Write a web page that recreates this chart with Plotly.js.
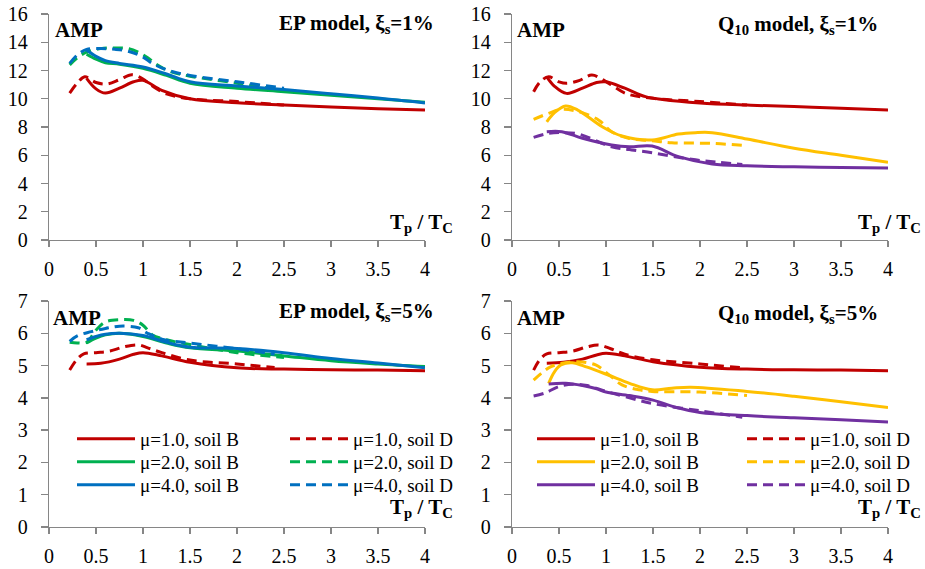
<!DOCTYPE html>
<html>
<head>
<meta charset="utf-8">
<script src="https://cdn.plot.ly/plotly-3.0.1.min.js"></script>
<style>html,body{margin:0;padding:0;background:#fff;}#chart{width:925px;height:569px;}</style>
</head>
<body>
<div id="chart"></div>
<script>
// ---------- DATA ----------
// Panel 1: EP model, xi_s = 1%
const ep1_m1B_x = [0.4,0.5,0.6,0.75,0.9,1.0,1.2,1.5,2,2.5,3,3.5,4];
const ep1_m1B_y = [11.45,10.7,10.4,10.75,11.2,11.3,10.6,10.0,9.72,9.55,9.42,9.3,9.2];
const ep1_m1D_x = [0.22,0.3,0.38,0.5,0.62,0.75,0.88,1.0,1.1,1.25,1.5,2,2.5];
const ep1_m1D_y = [10.4,11.1,11.55,11.15,11.05,11.35,11.7,11.4,10.9,10.35,10.0,9.8,9.55];
const ep1_m2B_x = [0.4,0.5,0.6,0.75,1.0,1.25,1.5,2,2.5,3,3.5,4];
const ep1_m2B_y = [13.15,12.8,12.55,12.45,12.15,11.65,11.1,10.75,10.5,10.25,10.0,9.75];
const ep1_m2D_x = [0.22,0.3,0.4,0.55,0.7,0.85,0.95,1.05,1.15,1.3,1.5,2,2.5];
const ep1_m2D_y = [12.4,12.9,13.3,13.55,13.6,13.55,13.3,12.9,12.4,11.9,11.6,11.1,10.6];
const ep1_m4B_x = [0.4,0.5,0.6,0.75,1.0,1.25,1.5,2,2.5,3,3.5,4];
const ep1_m4B_y = [13.45,13.0,12.7,12.5,12.25,11.75,11.2,10.9,10.65,10.35,10.05,9.7];
const ep1_m4D_x = [0.22,0.3,0.4,0.55,0.7,0.85,1.0,1.1,1.25,1.5,2,2.5];
const ep1_m4D_y = [12.5,13.1,13.5,13.55,13.5,13.35,12.95,12.5,12.05,11.65,11.2,10.75];

// Panel 2: Q10 model, xi_s = 1%
const q1_m1B_x = [0.37,0.45,0.58,0.75,0.9,1.0,1.2,1.42,1.6,2,2.5,3,3.5,4];
const q1_m1B_y = [11.55,10.9,10.38,10.75,11.15,11.2,10.75,10.15,9.95,9.7,9.55,9.45,9.32,9.2];
const q1_m1D_x = [0.23,0.3,0.39,0.5,0.58,0.72,0.85,1.03,1.21,1.5,2,2.5];
const q1_m1D_y = [10.5,11.2,11.56,11.2,11.09,11.3,11.68,11.09,10.38,10.03,9.8,9.55];
const q1_m2B_x = [0.37,0.45,0.57,0.7,0.96,1.17,1.49,1.77,1.95,2.13,2.5,3,3.5,4];
const q1_m2B_y = [8.37,9.0,9.49,9.2,8.02,7.36,7.08,7.5,7.6,7.6,7.15,6.5,6.0,5.5];
const q1_m2D_x = [0.23,0.39,0.53,0.7,0.92,1.06,1.24,1.49,1.7,2.13,2.45];
const q1_m2D_y = [8.54,8.97,9.25,9.1,8.5,7.67,7.2,7.03,6.89,6.84,6.7];
const q1_m4B_x = [0.37,0.53,0.75,1.06,1.25,1.49,1.77,2.13,2.5,3,3.5,4];
const q1_m4B_y = [7.67,7.67,7.2,6.73,6.6,6.65,5.9,5.38,5.25,5.18,5.13,5.1];
const q1_m4D_x = [0.23,0.39,0.55,0.71,1.06,1.25,1.49,1.91,2.2,2.45];
const q1_m4D_y = [7.27,7.55,7.6,7.5,6.6,6.4,6.18,5.71,5.5,5.35];

// Panel 3: EP model, xi_s = 5%
const ep5_m1B_x = [0.4,0.55,0.75,0.9,1.0,1.2,1.5,2,2.5,3,3.5,4];
const ep5_m1B_y = [5.05,5.07,5.2,5.35,5.4,5.3,5.1,4.93,4.89,4.87,4.86,4.84];
const ep5_m1D_x = [0.22,0.3,0.37,0.5,0.65,0.8,0.95,1.05,1.2,1.5,2,2.4];
const ep5_m1D_y = [4.86,5.2,5.36,5.4,5.45,5.58,5.64,5.55,5.4,5.17,5.05,4.94];
const ep5_m2B_x = [0.4,0.5,0.6,0.75,1.0,1.25,1.5,2,2.5,3,3.5,4];
const ep5_m2B_y = [5.7,5.85,5.95,6.0,5.9,5.7,5.55,5.45,5.3,5.15,5.05,4.97];
const ep5_m2D_x = [0.22,0.3,0.4,0.5,0.6,0.75,0.9,1.0,1.1,1.25,1.5,2,2.5];
const ep5_m2D_y = [5.72,5.7,5.72,6.1,6.35,6.42,6.4,6.25,5.95,5.8,5.65,5.4,5.25];
const ep5_m4B_x = [0.4,0.5,0.6,0.75,1.0,1.25,1.5,2,2.5,3,3.5,4];
const ep5_m4B_y = [5.8,5.9,5.97,6.0,5.93,5.72,5.57,5.53,5.4,5.22,5.08,4.93];
const ep5_m4D_x = [0.22,0.3,0.45,0.6,0.75,0.95,1.05,1.2,1.5,2,2.4];
const ep5_m4D_y = [5.75,5.92,6.05,6.15,6.22,6.17,6.0,5.82,5.7,5.52,5.35];

// Panel 4: Q10 model, xi_s = 5%
const q5_m1B_x = [0.37,0.55,0.75,0.9,1.0,1.2,1.5,2,2.5,3,3.5,4];
const q5_m1B_y = [5.07,5.1,5.2,5.33,5.38,5.3,5.12,4.95,4.89,4.87,4.86,4.84];
const q5_m1D_x = [0.23,0.3,0.37,0.5,0.65,0.8,0.92,1.05,1.2,1.5,2,2.45];
const q5_m1D_y = [4.86,5.2,5.36,5.4,5.45,5.58,5.64,5.52,5.35,5.18,5.05,4.93];
const q5_m2B_x = [0.39,0.45,0.52,0.64,0.8,1.03,1.25,1.49,1.7,1.9,2.5,3,3.5,4];
const q5_m2B_y = [4.45,4.8,5.02,5.09,4.95,4.7,4.45,4.25,4.3,4.33,4.2,4.05,3.88,3.7];
const q5_m2D_x = [0.23,0.32,0.41,0.55,0.7,0.89,1.03,1.17,1.35,1.49,2.0,2.5];
const q5_m2D_y = [4.55,4.78,4.96,5.08,5.12,5.02,4.72,4.4,4.25,4.2,4.18,4.07];
const q5_m4B_x = [0.39,0.57,0.75,0.89,1.0,1.25,1.5,1.75,2,2.5,3,3.5,4];
const q5_m4B_y = [4.43,4.45,4.38,4.29,4.18,4.07,3.93,3.7,3.55,3.45,3.38,3.32,3.25];
const q5_m4D_x = [0.23,0.35,0.5,0.65,0.8,1.0,1.25,1.5,2,2.45];
const q5_m4D_y = [4.06,4.15,4.35,4.42,4.38,4.2,4.0,3.82,3.6,3.4];

const seriesNames = ["μ=1.0, soil B","μ=1.0, soil D","μ=2.0, soil B","μ=2.0, soil D","μ=4.0, soil B","μ=4.0, soil D"];
const xTickVals = [0,0.5,1,1.5,2,2.5,3,3.5,4];
const xTickText = ["0","0.5","1","1.5","2","2.5","3","3.5","4"];

// ---------- STYLE ----------
const RED = "#C00000", GREEN = "#00B050", BLUE = "#0070C0", YEL = "#FFC000", PUR = "#7030A0";
const SERIF = "Liberation Serif";
const LW = 3;
const DASH = "10px,6px";

function tr(x, y, name, color, dashed, xa, ya, show, leg) {
  const t = {
    x: x, y: y, name: name, type: "scatter", mode: "lines",
    line: {color: color, width: LW, dash: dashed ? DASH : "solid", shape: "spline", smoothing: 1},
    xaxis: xa, yaxis: ya, showlegend: show, hoverinfo: "skip"
  };
  if (leg) t.legend = leg;
  return t;
}

const traces = [
  tr(ep1_m1B_x, ep1_m1B_y, seriesNames[0], RED, false, "x", "y", false),
  tr(ep1_m1D_x, ep1_m1D_y, seriesNames[1], RED, true, "x", "y", false),
  tr(ep1_m2B_x, ep1_m2B_y, seriesNames[2], GREEN, false, "x", "y", false),
  tr(ep1_m2D_x, ep1_m2D_y, seriesNames[3], GREEN, true, "x", "y", false),
  tr(ep1_m4D_x, ep1_m4D_y, seriesNames[5], BLUE, true, "x", "y", false),
  tr(ep1_m4B_x, ep1_m4B_y, seriesNames[4], BLUE, false, "x", "y", false),
  tr(q1_m1B_x, q1_m1B_y, seriesNames[0], RED, false, "x2", "y2", false),
  tr(q1_m1D_x, q1_m1D_y, seriesNames[1], RED, true, "x2", "y2", false),
  tr(q1_m2B_x, q1_m2B_y, seriesNames[2], YEL, false, "x2", "y2", false),
  tr(q1_m2D_x, q1_m2D_y, seriesNames[3], YEL, true, "x2", "y2", false),
  tr(q1_m4B_x, q1_m4B_y, seriesNames[4], PUR, false, "x2", "y2", false),
  tr(q1_m4D_x, q1_m4D_y, seriesNames[5], PUR, true, "x2", "y2", false),
  tr(ep5_m1B_x, ep5_m1B_y, seriesNames[0], RED, false, "x3", "y3", true, "legend"),
  tr(ep5_m1D_x, ep5_m1D_y, seriesNames[1], RED, true, "x3", "y3", true, "legend2"),
  tr(ep5_m2B_x, ep5_m2B_y, seriesNames[2], GREEN, false, "x3", "y3", true, "legend3"),
  tr(ep5_m2D_x, ep5_m2D_y, seriesNames[3], GREEN, true, "x3", "y3", true, "legend4"),
  tr(ep5_m4B_x, ep5_m4B_y, seriesNames[4], BLUE, false, "x3", "y3", true, "legend5"),
  tr(ep5_m4D_x, ep5_m4D_y, seriesNames[5], BLUE, true, "x3", "y3", true, "legend6"),
  tr(q5_m1B_x, q5_m1B_y, seriesNames[0], RED, false, "x4", "y4", true, "legend7"),
  tr(q5_m1D_x, q5_m1D_y, seriesNames[1], RED, true, "x4", "y4", true, "legend8"),
  tr(q5_m2B_x, q5_m2B_y, seriesNames[2], YEL, false, "x4", "y4", true, "legend9"),
  tr(q5_m2D_x, q5_m2D_y, seriesNames[3], YEL, true, "x4", "y4", true, "legend10"),
  tr(q5_m4B_x, q5_m4B_y, seriesNames[4], PUR, false, "x4", "y4", true, "legend11"),
  tr(q5_m4D_x, q5_m4D_y, seriesNames[5], PUR, true, "x4", "y4", true, "legend12")
];

const W = 925, H = 569;
const px = v => v / W;
const py = v => 1 - v / H;

function xax(dom, anchor) {
  return {
    domain: dom, anchor: anchor, range: [0, 4], tickvals: xTickVals, ticktext: xTickText,
    showgrid: false, zeroline: false, showline: true, linecolor: "#868686", linewidth: 1.3,
    ticks: "outside", ticklen: 6, tickwidth: 1.3, tickcolor: "#868686", ticklabelstandoff: 5,
    tickfont: {family: SERIF, size: 20, color: "#000"}, fixedrange: true
  };
}
function yax(dom, anchor, max, dt) {
  return {
    domain: dom, anchor: anchor, range: [0, max], dtick: dt, tick0: 0,
    showgrid: false, zeroline: false, showline: true, linecolor: "#868686", linewidth: 1.3,
    ticks: "outside", ticklen: 7, tickwidth: 1.3, tickcolor: "#868686", ticklabelstandoff: 9,
    tickfont: {family: SERIF, size: 20, color: "#000"}, fixedrange: true
  };
}

const dxL = [px(49), px(425)], dxR = [px(512), px(888)];
const dyT = [py(240), py(14)], dyB = [py(527), py(301)];

// one legend per entry, placed in a 2-column x 3-row grid inside each lower panel
function leg(xText, yCenter) {
  return {
    x: px(xText - 58), y: py(yCenter - 17), xanchor: "left", yanchor: "top", orientation: "v",
    bgcolor: "rgba(0,0,0,0)", borderwidth: 0, tracegroupgap: 0, itemwidth: 58,
    font: {family: SERIF, size: 19, color: "#000"}, itemclick: false, itemdoubleclick: false
  };
}
const rowY = [437, 460, 483];
const colL = [130, 343], colR = [590, 800];

function ann(text, x, y, xanchor) {
  return {text: text, x: px(x), y: py(y), xref: "paper", yref: "paper", xanchor: xanchor, yanchor: "middle",
    showarrow: false, font: {family: SERIF, size: 21, color: "#000"}};
}

const annotations = [
  ann("<b>AMP</b>", 53, 30, "left"),
  ann("<b>AMP</b>", 515, 30, "left"),
  ann("<b>AMP</b>", 51, 318, "left"),
  ann("<b>AMP</b>", 515, 318, "left"),
  ann("<b>EP model, ξ<sub>s</sub>=1%</b>", 436, 24, "right"),
  ann("<b>Q<sub>10</sub> model, ξ<sub>s</sub>=1%</b>", 880, 25, "right"),
  ann("<b>EP model, ξ<sub>s</sub>=5%</b>", 436, 312, "right"),
  ann("<b>Q<sub>10</sub> model, ξ<sub>s</sub>=5%</b>", 880, 314, "right"),
  ann("<b>T<sub>p</sub> / T<sub>C</sub></b>", 388, 223, "left"),
  ann("<b>T<sub>p</sub> / T<sub>C</sub></b>", 856, 223, "left"),
  ann("<b>T<sub>p</sub> / T<sub>C</sub></b>", 388, 508, "left"),
  ann("<b>T<sub>p</sub> / T<sub>C</sub></b>", 856, 508, "left")
];

const layout = {
  width: W, height: H, margin: {l: 0, r: 0, t: 0, b: 0},
  paper_bgcolor: "#fff", plot_bgcolor: "#fff",
  font: {family: SERIF},
  xaxis: xax(dxL, "y"), yaxis: yax(dyT, "x", 16, 2),
  xaxis2: xax(dxR, "y2"), yaxis2: yax(dyT, "x2", 16, 2),
  xaxis3: xax(dxL, "y3"), yaxis3: yax(dyB, "x3", 7, 1),
  xaxis4: xax(dxR, "y4"), yaxis4: yax(dyB, "x4", 7, 1),
  legend: leg(colL[0], rowY[0]), legend2: leg(colL[1], rowY[0]),
  legend3: leg(colL[0], rowY[1]), legend4: leg(colL[1], rowY[1]),
  legend5: leg(colL[0], rowY[2]), legend6: leg(colL[1], rowY[2]),
  legend7: leg(colR[0], rowY[0]), legend8: leg(colR[1], rowY[0]),
  legend9: leg(colR[0], rowY[1]), legend10: leg(colR[1], rowY[1]),
  legend11: leg(colR[0], rowY[2]), legend12: leg(colR[1], rowY[2]),
  annotations: annotations, showlegend: true
};

Plotly.newPlot("chart", traces, layout, {staticPlot: true, displayModeBar: false});
</script>
</body>
</html>
